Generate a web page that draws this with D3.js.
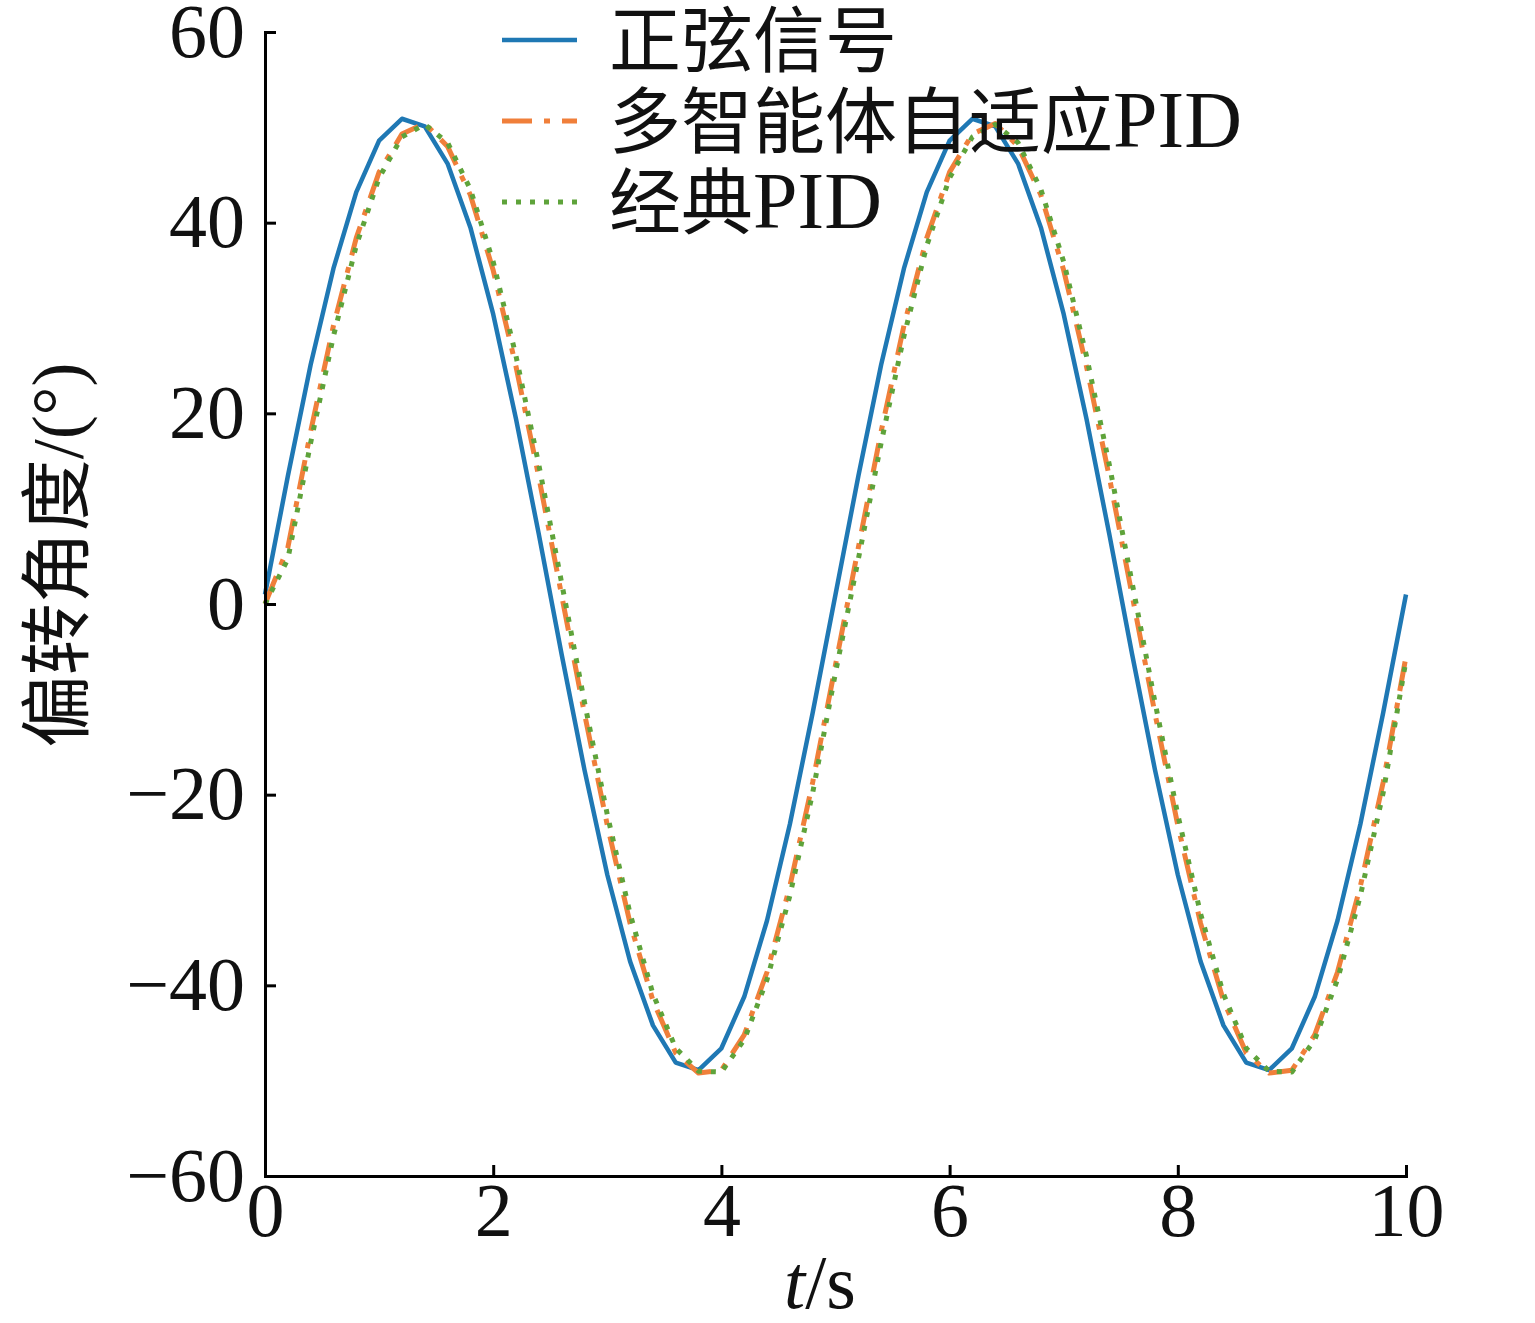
<!DOCTYPE html>
<html><head><meta charset="utf-8">
<script src="https://cdn.jsdelivr.net/npm/d3@7/dist/d3.min.js"></script>
<style>body{margin:0;background:#fff}svg{display:block}</style>
</head><body><svg id="c" width="1535" height="1323"></svg>
<script>
const time = d3.range(51).map(i => +(i * 0.2).toFixed(1));
const sineSignal = [1.0,13.4,25.1,35.2,43.2,48.6,50.9,50.1,46.2,39.5,30.4,19.4,7.3,-5.3,-17.4,-28.4,-37.5,-44.2,-48.1,-48.9,-46.6,-41.2,-33.2,-23.1,-11.4,
  1.0,13.4,25.1,35.2,43.2,48.6,50.9,50.1,46.2,39.5,30.4,19.4,7.3,-5.3,-17.4,-28.4,-37.5,-44.2,-48.1,-48.9,-46.6,-41.2,-33.2,-23.1,-11.4,1.0];
const adaptivePID = [0.0,5.9,18.1,29.2,38.4,45.3,49.3,50.4,48.0,42.9,35.0,24.9,13.3,0.9,-11.5,-23.2,-33.5,-41.6,-47.1,-49.2,-48.9,-45.2,-38.6,-29.6,-18.7,
  -6.4,5.9,18.1,29.2,38.4,45.3,49.3,50.4,48.0,42.9,35.0,24.9,13.3,0.9,-11.5,-23.2,-33.5,-41.6,-47.1,-49.2,-48.9,-45.2,-38.6,-29.6,-18.7,-5.5];
const classicPID = [0.0,4.7,16.9,28.1,37.6,44.7,49.0,50.3,48.4,43.5,35.9,26.0,14.6,2.2,-10.3,-22.1,-32.5,-40.9,-46.6,-49.0,-49.1,-45.7,-39.4,-30.6,-19.8,
  -7.2,4.7,16.9,28.1,37.6,44.7,49.0,50.3,48.4,43.5,35.9,26.0,14.6,2.2,-10.3,-22.1,-32.5,-40.9,-46.6,-49.0,-49.1,-45.7,-39.4,-30.6,-19.8,-5.9];
const seriesNames = [["正弦信号", ""], ["多智能体自适应", "PID"], ["经典", "PID"]];
const xTicks = [0, 2, 4, 6, 8, 10];
const yTicks = [-60, -40, -20, 0, 20, 40, 60];

const series = [
  {name: seriesNames[0], values: sineSignal, color: "#1f78b4", dash: null, width: 4.5},
  {name: seriesNames[1], values: adaptivePID, color: "#f07f3a", dash: "30,12,6,12", width: 5},
  {name: seriesNames[2], values: classicPID, color: "#5ea33a", dash: "5,9", width: 5}
];

const svg = d3.select("#c");
const x = d3.scaleLinear().domain([0, 10]).range([265, 1406]);
const y = d3.scaleLinear().domain([-60, 60]).range([1176, 32]);
const font = "'Liberation Serif','Times New Roman',serif";
const cjk = "'Liberation Serif','Noto Sans CJK SC',serif";

const line = d3.line().x((d, i) => x(time[i])).y(d => y(d));
series.forEach(s => {
  svg.append("path").datum(s.values)
    .attr("d", line).attr("fill", "none")
    .attr("stroke", s.color).attr("stroke-width", s.width)
    .attr("stroke-linejoin", "round")
    .attr("stroke-dasharray", s.dash);
});

const xAxis = svg.append("g").attr("transform", "translate(0,1176)")
  .call(d3.axisBottom(x).tickValues(xTicks).tickSize(-11).tickPadding(6).tickFormat(d3.format("d")));
const yAxis = svg.append("g").attr("transform", "translate(265,0)")
  .call(d3.axisLeft(y).tickValues(yTicks).tickSize(-11).tickPadding(20).tickFormat(d => d < 0 ? "\u2212" + Math.abs(d) : d));
[xAxis, yAxis].forEach(g => {
  g.select(".domain").attr("stroke", "#000").attr("stroke-width", 3);
  g.selectAll(".tick line").attr("stroke", "#000").attr("stroke-width", 3);
  g.selectAll(".tick text").attr("font-family", font).attr("font-size", 76).attr("fill", "#111");
});

// axis titles
const xt = svg.append("text").attr("x", 820).attr("y", 1308).attr("text-anchor", "middle")
  .attr("font-family", font).attr("font-size", 76).attr("fill", "#111");
xt.append("tspan").attr("font-style", "italic").text("t");
xt.append("tspan").text("/s");

svg.append("text").attr("transform", "translate(82,555) rotate(-90)")
  .attr("text-anchor", "middle")
  .attr("font-family", cjk).attr("font-size", 72).attr("fill", "#111")
  .text("偏转角度/(°)");

// legend
const lg = svg.append("g");
series.forEach((s, i) => {
  const yy = 40 + i * 81;
  lg.append("line").attr("x1", 502).attr("x2", 577).attr("y1", yy).attr("y2", yy)
    .attr("stroke", s.color).attr("stroke-width", s.width).attr("stroke-dasharray", s.dash);
  const t = lg.append("text").attr("x", 609).attr("y", yy + 26)
    .attr("font-family", cjk).attr("font-size", 72).attr("fill", "#111");
  t.append("tspan").text(s.name[0]);
  if (s.name[1]) t.append("tspan").attr("font-size", 80).text(s.name[1]);
});
</script></body></html>
